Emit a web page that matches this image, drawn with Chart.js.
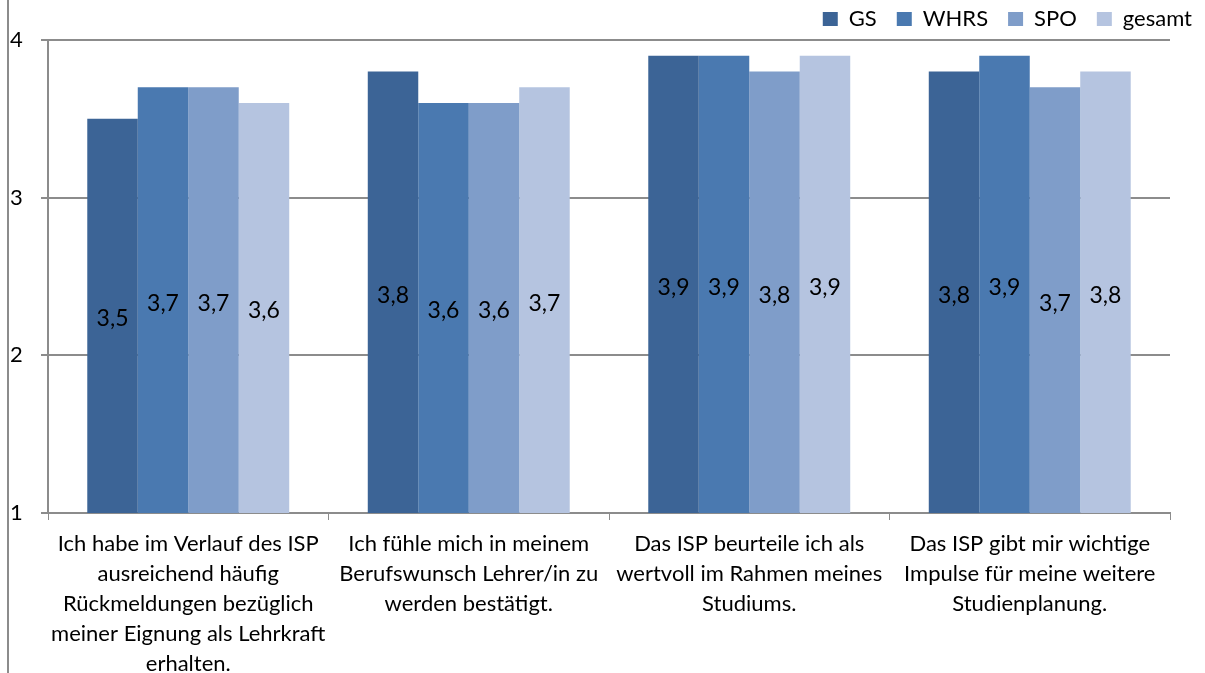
<!DOCTYPE html>
<html>
<head>
<meta charset="utf-8">
<script src="https://cdn.jsdelivr.net/npm/chart.js@4/dist/chart.umd.min.js"></script>
<style>
  html, body { margin: 0; padding: 0; background: #fff; }
  #wrap { width: 1205px; height: 673px; }
</style>
</head>
<body>
<div id="wrap"><canvas id="chart"></canvas></div>
<script>
const categories = [
  ["Ich habe im Verlauf des ISP", "ausreichend häufig", "Rückmeldungen bezüglich", "meiner Eignung als Lehrkraft", "erhalten."],
  ["Ich fühle mich in meinem", "Berufswunsch Lehrer/in zu", "werden bestätigt."],
  ["Das ISP beurteile ich als", "wertvoll im Rahmen meines", "Studiums."],
  ["Das ISP gibt mir wichtige", "Impulse für meine weitere", "Studienplanung."]
]
const gs = [3.5, 3.8, 3.9, 3.8]
const whrs = [3.7, 3.6, 3.9, 3.9]
const spo = [3.7, 3.6, 3.8, 3.7]
const gesamt = [3.6, 3.7, 3.9, 3.8]
const yTicks = [1, 2, 3, 4]

const font = "Lato"
const axisGray = "#8c8c8c"

// Werte mittig in die Balken schreiben (Balken beginnen bei 1)
const barValues = {
  id: "barValues",
  afterDatasetsDraw(chart) {
    const ctx = chart.ctx
    const bottom = chart.scales.y.bottom
    ctx.save()
    ctx.font = "23px " + font
    ctx.fillStyle = "#000"
    ctx.textAlign = "center"
    ctx.textBaseline = "middle"
    chart.data.datasets.forEach((ds, i) => {
      chart.getDatasetMeta(i).data.forEach((bar, j) => {
        const txt = String(ds.data[j]).replace(".", ",")
        ctx.fillText(txt, bar.x, (bar.y + bottom) / 2 + 3)
      })
    })
    ctx.restore()
  }
}

// Rahmenlinie links
const leftLine = {
  id: "leftLine",
  beforeDraw(chart) {
    const ctx = chart.ctx
    ctx.save()
    ctx.strokeStyle = axisGray
    ctx.lineWidth = 2
    ctx.beginPath()
    ctx.moveTo(8, 0)
    ctx.lineTo(8, chart.height)
    ctx.stroke()
    ctx.restore()
  }
}

new Chart(document.querySelector("#chart"), {
  type: "bar",
  data: {
    labels: categories,
    datasets: [
      { label: "GS", data: gs, backgroundColor: "#3c6496" },
      { label: "WHRS", data: whrs, backgroundColor: "#4a79b0" },
      { label: "SPO", data: spo, backgroundColor: "#7f9dc9" },
      { label: "gesamt", data: gesamt, backgroundColor: "#b5c4e0" }
    ]
  },
  options: {
    responsive: true,
    maintainAspectRatio: false,
    animation: false,
    layout: { padding: { left: 10, right: -7, top: -12, bottom: 0 } },
    datasets: {
      bar: { categoryPercentage: 0.72, barPercentage: 1 }
    },
    plugins: {
      legend: {
        align: "end",
        labels: {
          boxWidth: 15,
          boxHeight: 14,
          padding: 20,
          color: "#000",
          font: { family: font, size: 22 }
        }
      },
      tooltip: { enabled: false }
    },
    scales: {
      x: {
        afterFit: s => { s.height = 160 },
        grid: { drawOnChartArea: false, color: axisGray, tickLength: 7, offset: true },
        border: { color: axisGray, width: 2 },
        ticks: {
          color: "#000",
          maxRotation: 0,
          autoSkip: false,
          padding: 9,
          font: { family: font, size: 22, lineHeight: 1.36 }
        }
      },
      y: {
        min: 1,
        max: 4,
        afterBuildTicks: s => { s.ticks = yTicks.map(v => ({ value: v })) },
        afterFit: s => { s.width = 38 },
        grid: { color: axisGray, lineWidth: 2, tickLength: 7 },
        border: { color: axisGray, width: 2 },
        ticks: {
          color: "#000",
          crossAlign: "far",
          font: { family: font, size: 22 }
        }
      },
      yRight: {
        position: "right",
        display: true,
        afterFit: s => { s.width = 42 },
        grid: { display: false },
        border: { display: false },
        ticks: { display: false }
      }
    }
  },
  plugins: [barValues, leftLine]
})
</script>
</body>
</html>
